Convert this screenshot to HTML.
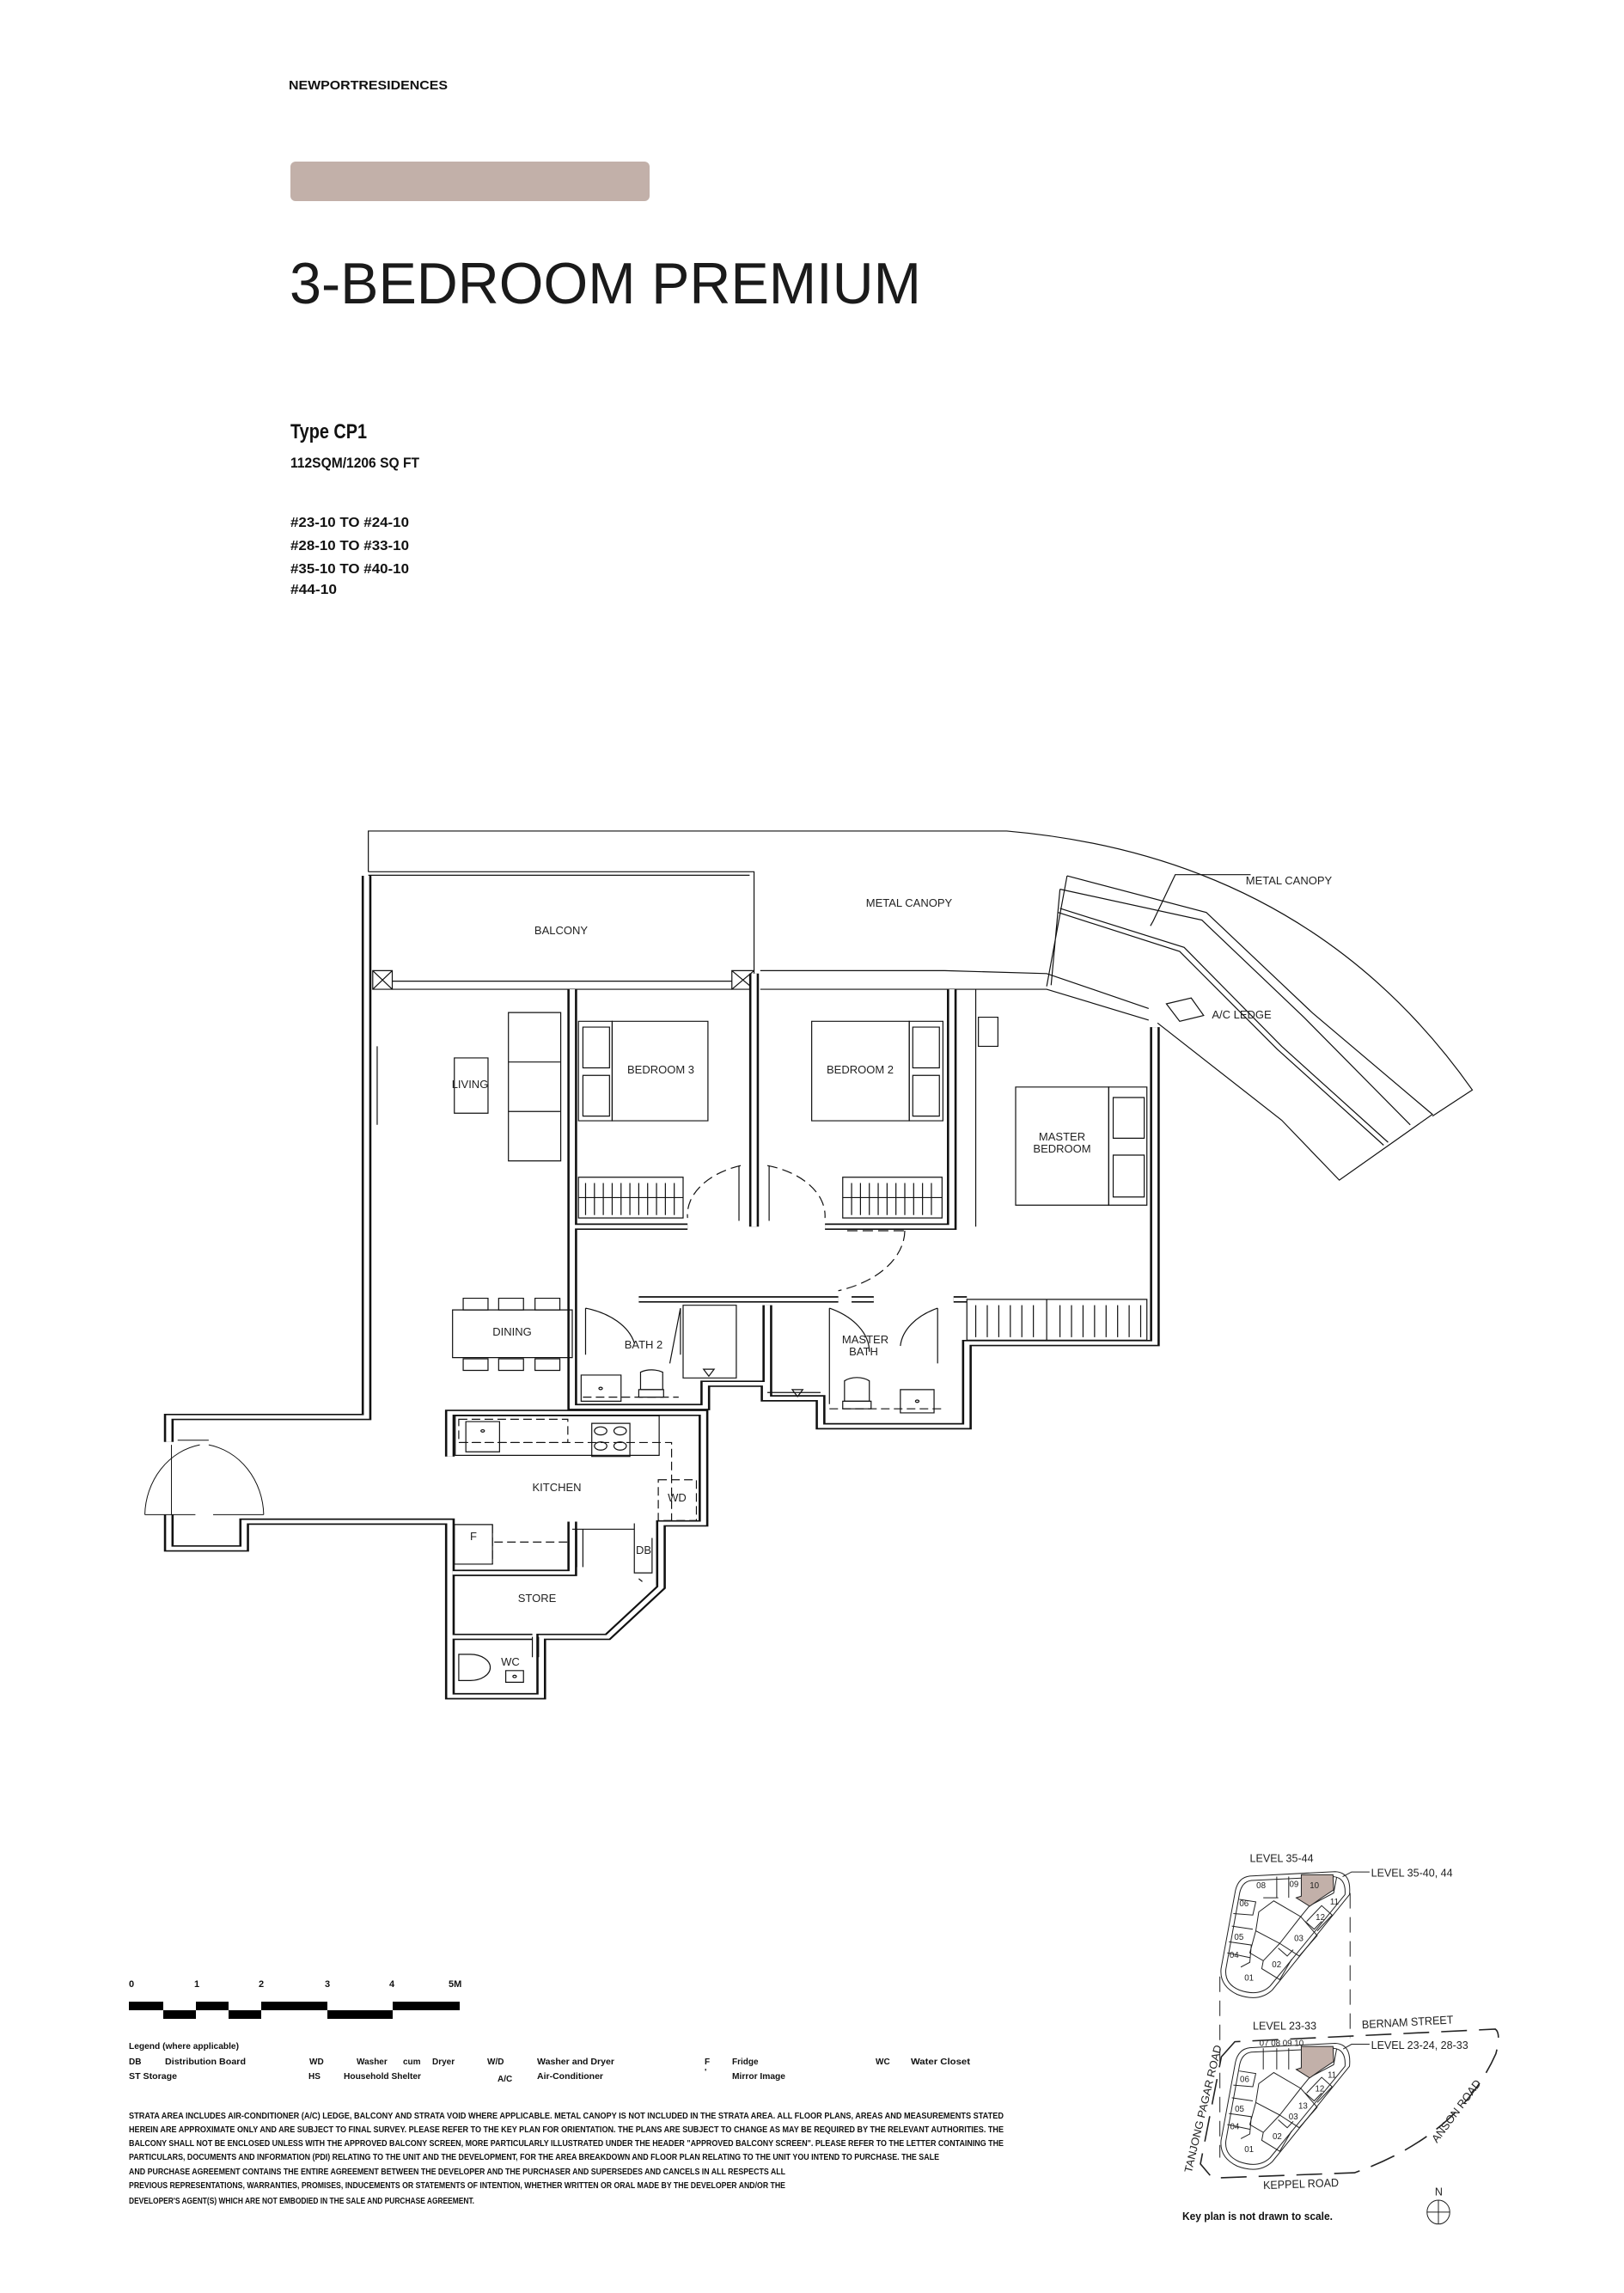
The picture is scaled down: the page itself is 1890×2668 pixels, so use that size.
<!DOCTYPE html>
<html><head><meta charset="utf-8">
<style>
html,body{margin:0;padding:0;background:#fff;}
svg{display:block;}
.n *{vector-effect:non-scaling-stroke;}
.t{font-family:"Liberation Sans",sans-serif;fill:#222;}
.c{font-family:"Liberation Sans Narrow","Liberation Sans",sans-serif;font-weight:bold;fill:#111;}
</style></head><body>
<svg width="1890" height="2668" viewBox="0 0 1890 2668" xmlns="http://www.w3.org/2000/svg">
<defs>
<g id="walls" fill="none">
 <path d="M268,102 V1032 H45 V1075"/>
 <path d="M45,1200 V1258 H130 V1212 H362 V1512 H465 V1410 H540 L600,1325 V1215 H648 V1025 H362 V1100"/>
 <path d="M500,297 V1015 H650 V975 H718 V1000 H780 V1048 H945 V905 H1157 V362"/>
 <path d="M500,705 H630"/>
 <path d="M705,270 V705"/>
 <path d="M785,705 H928 V297"/>
 <path d="M575,830 H800 M815,830 H840 M720,840 V1000 M945,830 H930"/>
 <path d="M365,1300 H500 V1212 M455,1410 H362"/>
</g>
</defs>
<rect width="1890" height="2668" fill="#fff"/>

<!-- header -->
<text class="c" x="336" y="104" font-size="15" textLength="185" lengthAdjust="spacingAndGlyphs">NEWPORTRESIDENCES</text>
<rect x="338" y="188" width="418" height="46" rx="6" fill="#c2b0a9"/>
<text class="t" x="337" y="353" font-size="68" textLength="735" lengthAdjust="spacingAndGlyphs" style="fill:#1a1a1a">3-BEDROOM PREMIUM</text>
<text class="c" x="338" y="510" font-size="24" textLength="89" lengthAdjust="spacingAndGlyphs">Type CP1</text>
<text class="c" x="338" y="544" font-size="17" textLength="150" lengthAdjust="spacingAndGlyphs">112SQM/1206 SQ FT</text>
<text class="c" x="338" y="613" font-size="16" textLength="138" lengthAdjust="spacingAndGlyphs">#23-10 TO #24-10</text>
<text class="c" x="338" y="640" font-size="16" textLength="138" lengthAdjust="spacingAndGlyphs">#28-10 TO #33-10</text>
<text class="c" x="338" y="667" font-size="16" textLength="138" lengthAdjust="spacingAndGlyphs">#35-10 TO #40-10</text>
<text class="c" x="338" y="691" font-size="16" textLength="54" lengthAdjust="spacingAndGlyphs">#44-10</text>

<!-- floor plan -->
<g class="n" transform="translate(150,950) scale(1.032,0.677)" fill="none" stroke="#111" stroke-width="1.2">
 <!-- canopy -->
 <path d="M270,95 V25 H990 Q1330,70 1515,470 L1470,515"/>
 <path d="M270,95 H705 V265 M270,101 H700"/>
 <path d="M297,283 H680 M297,297 H680 M712,265 H920 L1035,270 L1150,330 M712,297 H930 L1035,297 L1150,350"/>
 <path d="M1058,102 L1035,292 M1050,125 L1040,290"/>
 <path d="M1058,102 L1215,165 L1335,338 L1470,512 L1365,625 L1300,522 L1160,355"/>
 <path d="M1050,125 L1210,178 L1325,345 L1445,530"/>
 <path d="M1050,158 L1190,225 L1300,395 L1420,560 M1048,165 L1185,232 L1295,400 L1415,565"/>
 <path d="M1155,180 L1180,100 H1265 M1155,180 l-3,8"/>
 <path d="M1170,322 L1198,312 L1212,342 L1185,352 Z"/>
 <rect x="275" y="265" width="22" height="32"/><path d="M275,265 L297,297 M297,265 L275,297"/>
 <rect x="680" y="265" width="25" height="32"/><path d="M680,265 L705,297 M705,265 L680,297"/>
 <path d="M955,297 V705 M280,395 V530"/>
 <!-- walls -->
 <use href="#walls" stroke="#111" stroke-width="11"/>
 <use href="#walls" stroke="#fff" stroke-width="6"/>
 <!-- living -->
 <rect x="428" y="337" width="59" height="255"/><path d="M428,422 H487 M428,507 H487"/>
 <rect x="367" y="415" width="38" height="95"/>
 <!-- bedroom 3 -->
 <rect x="545" y="352" width="108" height="171"/><rect x="507" y="352" width="38" height="171"/>
 <rect x="512" y="362" width="30" height="70"/><rect x="512" y="445" width="30" height="70"/>
 <rect x="507" y="620" width="118" height="70"/><path d="M507,655 H625 M515,630 V685 M525,630 V685 M535,630 V685 M545,630 V685 M555,630 V685 M565,630 V685 M575,630 V685 M585,630 V685 M595,630 V685 M605,630 V685 M615,630 V685"/>
 <path d="M690,600 A90,90 0 0 0 630,690" stroke-dasharray="12 6"/><path d="M688,600 V695"/>
 <!-- bedroom 2 -->
 <rect x="770" y="352" width="110" height="171"/><rect x="880" y="352" width="38" height="171"/>
 <rect x="884" y="362" width="30" height="70"/><rect x="884" y="445" width="30" height="70"/>
 <rect x="805" y="620" width="112" height="70"/><path d="M805,655 H917 M815,630 V685 M825,630 V685 M835,630 V685 M845,630 V685 M855,630 V685 M865,630 V685 M875,630 V685 M885,630 V685 M895,630 V685 M905,630 V685"/>
 <path d="M720,600 A90,90 0 0 1 785,690" stroke-dasharray="12 6"/><path d="M722,600 V695"/>
 <!-- master -->
 <rect x="958" y="345" width="22" height="50"/>
 <rect x="1000" y="465" width="105" height="203"/><rect x="1105" y="465" width="43" height="203"/>
 <rect x="1110" y="483" width="35" height="70"/><rect x="1110" y="582" width="35" height="72"/>
 <path d="M810,712 H875 M875,712 A110,110 0 0 1 800,815" stroke-dasharray="12 6"/>
 <rect x="945" y="830" width="203" height="70"/><path d="M1035,830 V900 M955,840 V895 M968,840 V895 M981,840 V895 M994,840 V895 M1007,840 V895 M1020,840 V895 M1050,840 V895 M1063,840 V895 M1076,840 V895 M1089,840 V895 M1102,840 V895 M1115,840 V895 M1128,840 V895 M1141,840 V895"/>
 <!-- dining -->
 <rect x="365" y="848" width="135" height="82"/>
 <rect x="377" y="828" width="28" height="20"/><rect x="417" y="828" width="28" height="20"/><rect x="458" y="828" width="28" height="20"/>
 <rect x="377" y="932" width="28" height="20"/><rect x="417" y="932" width="28" height="20"/><rect x="458" y="932" width="28" height="20"/>
 <!-- bath 2 -->
 <path d="M515,845 V925 M515,845 A80,80 0 0 1 570,905 M622,845 V925 M622,845 L610,940"/>
 <rect x="510" y="960" width="45" height="45"/><circle cx="532" cy="983" r="2"/>
 <path d="M577,985 V955 A22,22 0 0 1 602,955 V985 Z"/><path d="M575,985 H603 V998 H575 Z"/>
 <rect x="625" y="840" width="60" height="125"/><path d="M648,950 L660,950 L654,962 Z"/>
 <path d="M512,998 H620" stroke-dasharray="10 5"/>
 <!-- master bath -->
 <path d="M790,845 V1010 M790,845 A85,85 0 0 1 835,920 M912,845 V940 M912,845 A80,80 0 0 0 870,910"/>
 <rect x="870" y="985" width="38" height="40"/><circle cx="889" cy="1005" r="2"/>
 <path d="M807,1005 V970 A20,20 0 0 1 835,970 V1005 Z"/><path d="M805,1005 H837 V1018 H805 Z"/>
 <path d="M748,985 L760,985 L754,997 Z M720,990 H780"/>
 <path d="M790,1018 H920" stroke-dasharray="10 5"/>
 <!-- kitchen -->
 <rect x="368" y="1030" width="230" height="68"/>
 <rect x="372" y="1036" width="123" height="40" stroke-dasharray="10 5"/>
 <rect x="380" y="1040" width="38" height="52"/><circle cx="399" cy="1056" r="2"/>
 <rect x="522" y="1043" width="43" height="57"/><circle cx="532" cy="1056" r="7"/><circle cx="554" cy="1056" r="7"/><circle cx="532" cy="1082" r="7"/><circle cx="554" cy="1082" r="7"/>
 <path d="M372,1076 H612 V1210" stroke-dasharray="10 5"/>
 <rect x="597" y="1140" width="43" height="70" stroke-dasharray="10 5"/>
 <rect x="367" y="1217" width="43" height="68"/><path d="M410,1217 V1285 M412,1247 H497" stroke-dasharray="10 5"/>
 <path d="M505,1225 V1290 M512,1225 V1290 M500,1225 H570 M570,1215 V1300 H590 V1240"/>
 <!-- entry door -->
 <path d="M55,1072 H90 M18,1200 H75 M95,1200 H152 M18,1200 A75,125 0 0 1 80,1080 M152,1200 A75,125 0 0 0 90,1080 M48,1080 V1200" stroke-width="1"/>
 <!-- wc -->
 <path d="M372,1440 H385 A22,22 0 0 1 385,1485 H372 Z"/><rect x="425" y="1468" width="20" height="20"/><circle cx="435" cy="1478" r="2"/>
 <path d="M455,1410 V1445 M462,1410 V1445"/>
 <path d="M575,1310 l4,5"/>
</g>
<!-- floor labels -->
<g class="t" font-size="13" text-anchor="middle">
 <text x="653" y="1087">BALCONY</text>
 <text x="1058" y="1055">METAL CANOPY</text>
 <text x="1500" y="1029">METAL CANOPY</text>
 <text x="1445" y="1185">A/C LEDGE</text>
 <text x="547" y="1266">LIVING</text>
 <text x="769" y="1249">BEDROOM 3</text>
 <text x="1001" y="1249">BEDROOM 2</text>
 <text x="1236" y="1327">MASTER</text>
 <text x="1236" y="1341">BEDROOM</text>
 <text x="596" y="1554">DINING</text>
 <text x="749" y="1569">BATH 2</text>
 <text x="1007" y="1563">MASTER</text>
 <text x="1005" y="1577">BATH</text>
 <text x="648" y="1735">KITCHEN</text>
 <text x="788" y="1747">WD</text>
 <text x="551" y="1792">F</text>
 <text x="749" y="1808">DB</text>
 <text x="625" y="1864">STORE</text>
 <text x="594" y="1938">WC</text>
</g>

<!-- scale bar -->
<g class="c" font-size="11">
 <text x="150" y="2312">0</text><text x="226" y="2312">1</text><text x="301" y="2312">2</text><text x="378" y="2312">3</text><text x="453" y="2312">4</text><text x="522" y="2312">5M</text>
</g>
<g fill="#000">
 <rect x="150" y="2329" width="40" height="10"/><rect x="228" y="2329" width="38" height="10"/><rect x="304" y="2329" width="77" height="10"/><rect x="457" y="2329" width="78" height="10"/>
 <rect x="190" y="2339" width="38" height="10"/><rect x="266" y="2339" width="38" height="10"/><rect x="381" y="2339" width="76" height="10"/>
</g>
<!-- legend -->
<g class="c" font-size="10">
 <text x="150" y="2384" textLength="128" lengthAdjust="spacingAndGlyphs">Legend (where applicable)</text>
 <text x="150" y="2402">DB</text><text x="192" y="2402" textLength="94" lengthAdjust="spacingAndGlyphs">Distribution Board</text>
 <text x="360" y="2402">WD</text><text x="415" y="2402">Washer</text><text x="469" y="2402">cum</text><text x="503" y="2402">Dryer</text>
 <text x="567" y="2402">W/D</text><text x="625" y="2402" textLength="90" lengthAdjust="spacingAndGlyphs">Washer and Dryer</text>
 <text x="820" y="2402">F</text><text x="852" y="2402">Fridge</text>
 <text x="1019" y="2402">WC</text><text x="1060" y="2402" textLength="69" lengthAdjust="spacingAndGlyphs">Water Closet</text>
 <text x="150" y="2419" textLength="56" lengthAdjust="spacingAndGlyphs">ST Storage</text>
 <text x="359" y="2419">HS</text><text x="400" y="2419" textLength="90" lengthAdjust="spacingAndGlyphs">Household Shelter</text>
 <text x="579" y="2422">A/C</text><text x="625" y="2419" textLength="77" lengthAdjust="spacingAndGlyphs">Air-Conditioner</text>
 <text x="820" y="2414">'</text><text x="852" y="2419" textLength="62" lengthAdjust="spacingAndGlyphs">Mirror Image</text>
</g>
<g class="c" font-size="10" lengthAdjust="spacingAndGlyphs">
 <text x="150" y="2465" textLength="1018" lengthAdjust="spacingAndGlyphs">STRATA AREA INCLUDES AIR-CONDITIONER (A/C) LEDGE, BALCONY AND STRATA VOID WHERE APPLICABLE. METAL CANOPY IS NOT INCLUDED IN THE STRATA AREA. ALL FLOOR PLANS, AREAS AND MEASUREMENTS STATED</text>
 <text x="150" y="2481" textLength="1018" lengthAdjust="spacingAndGlyphs">HEREIN ARE APPROXIMATE ONLY AND ARE SUBJECT TO FINAL SURVEY. PLEASE REFER TO THE KEY PLAN FOR ORIENTATION. THE PLANS ARE SUBJECT TO CHANGE AS MAY BE REQUIRED BY THE RELEVANT AUTHORITIES. THE</text>
 <text x="150" y="2497" textLength="1018" lengthAdjust="spacingAndGlyphs">BALCONY SHALL NOT BE ENCLOSED UNLESS WITH THE APPROVED BALCONY SCREEN, MORE PARTICULARLY ILLUSTRATED UNDER THE HEADER "APPROVED BALCONY SCREEN". PLEASE REFER TO THE LETTER CONTAINING THE</text>
 <text x="150" y="2513" textLength="943" lengthAdjust="spacingAndGlyphs">PARTICULARS, DOCUMENTS AND INFORMATION (PDI) RELATING TO THE UNIT AND THE DEVELOPMENT, FOR THE AREA BREAKDOWN AND FLOOR PLAN RELATING TO THE UNIT YOU INTEND TO PURCHASE. THE SALE</text>
 <text x="150" y="2530" textLength="764" lengthAdjust="spacingAndGlyphs">AND PURCHASE AGREEMENT CONTAINS THE ENTIRE AGREEMENT BETWEEN THE DEVELOPER AND THE PURCHASER AND SUPERSEDES AND CANCELS IN ALL RESPECTS ALL</text>
 <text x="150" y="2546" textLength="764" lengthAdjust="spacingAndGlyphs">PREVIOUS REPRESENTATIONS, WARRANTIES, PROMISES, INDUCEMENTS OR STATEMENTS OF INTENTION, WHETHER WRITTEN OR ORAL MADE BY THE DEVELOPER AND/OR THE</text>
 <text x="150" y="2564" textLength="402" lengthAdjust="spacingAndGlyphs">DEVELOPER'S AGENT(S) WHICH ARE NOT EMBODIED IN THE SALE AND PURCHASE AGREEMENT.</text>
</g>

<!-- key plan -->
<g transform="translate(1350,2100) scale(0.3484,0.3665)">
 <g class="n" fill="none" stroke="#222" stroke-width="1">
  <path d="M300,226 L585,212 Q640,214 633,285 L375,588 Q330,628 258,602 Q198,575 204,520 L252,272 Q262,230 300,226 Z"/>
  <path d="M305,240 L580,228 Q622,232 618,285 L368,575 Q330,610 265,588 Q215,568 220,522 L266,280 Q274,244 305,240 Z"/>
  <path d="M330,340 L380,305 L470,355 L400,440 L320,400 Z M320,400 L300,470 L345,495 L400,440 M345,495 L340,520 L400,555 L440,490 M400,440 L465,480 L525,415 L470,355 M470,355 L500,320 L580,280 L590,230 M455,295 L500,320 M390,228 V295 M430,228 V295 M345,295 L395,295 M265,300 L320,308 L310,350 L245,345 M240,385 L310,395 M230,435 L305,445 L300,500 L270,515 M490,370 L540,320 L575,350 L525,400 M485,370 L515,395 L540,370 M395,455 L425,480 L445,460 M225,470 L300,485"/>
  <path d="M472,222 L578,222 L580,270 L540,295 L500,322 L455,295 L472,290 Z" fill="#c2b0a9"/>
  <path d="M300,771 L585,757 Q640,759 633,830 L375,1133 Q330,1173 258,1147 Q198,1120 204,1065 L252,817 Q262,775 300,771 Z"/>
  <path d="M305,785 L580,773 Q622,777 618,830 L368,1120 Q330,1155 265,1133 Q215,1113 220,1067 L266,825 Q274,789 305,785 Z"/>
  <path d="M330,885 L380,850 L470,900 L400,985 L320,945 Z M320,945 L300,1015 L345,1040 L400,985 M345,1040 L340,1065 L400,1100 L440,1035 M400,985 L465,1025 L525,960 L470,900 M470,900 L500,865 L580,825 L590,775 M455,840 L500,865 M345,773 V840 M390,773 V840 M430,773 V840 M265,845 L320,853 L310,895 L245,890 M240,930 L310,940 M230,980 L305,990 L300,1045 L270,1060 M490,915 L540,865 L575,895 L525,945 M485,915 L515,940 L540,915 M395,1000 L425,1025 L445,1005 M225,1015 L300,1030"/>
  <path d="M472,767 L578,767 L580,815 L540,840 L500,867 L455,840 L472,835 Z" fill="#c2b0a9"/>
  <path d="M200,545 V1120 M635,280 V740" stroke-dasharray="18 10"/>
  <path d="M205,800 L250,752 L1120,712 Q1140,725 1122,790 Q1000,1050 650,1168 L175,1185 L135,1140 Z" stroke-width="1.6" stroke-dasharray="30 14"/>
  <path d="M610,228 L640,213 H700 M612,775 L640,760 H700"/>
  <circle cx="930" cy="1293" r="38"/><path d="M892,1293 H968 M930,1255 V1331"/>
 </g>
 <g class="t" font-size="36">
  <text x="300" y="182">LEVEL 35-44</text>
  <text x="705" y="228">LEVEL 35-40, 44</text>
  <text x="310" y="713">LEVEL 23-33</text>
  <text x="705" y="775">LEVEL 23-24, 28-33</text>
  <text x="675" y="710" transform="rotate(-3 675 710)">BERNAM STREET</text>
  <text x="105" y="1170" transform="rotate(-76 105 1170)">TANJONG PAGAR ROAD</text>
  <text x="925" y="1075" transform="rotate(-52 925 1075)">ANSON ROAD</text>
  <text x="345" y="1220" transform="rotate(-2 345 1220)">KEPPEL ROAD</text>
  <text x="918" y="1240">N</text>
  <g font-size="28">
   <text x="322" y="265">08</text><text x="432" y="260">09</text><text x="500" y="265">10</text><text x="568" y="316">11</text><text x="520" y="366">12</text>
   <text x="265" y="322">06</text><text x="248" y="428">05</text><text x="232" y="486">04</text><text x="448" y="433">03</text><text x="374" y="516">02</text><text x="282" y="558">01</text>
   <text x="332" y="765">07 08 09 10</text><text x="560" y="866">11</text><text x="518" y="910">12</text><text x="462" y="964">13</text>
   <text x="267" y="880">06</text><text x="250" y="974">05</text><text x="234" y="1030">04</text><text x="430" y="998">03</text><text x="376" y="1062">02</text><text x="282" y="1103">01</text>
  </g>
 </g>
</g>
<text class="c" x="1376" y="2583" font-size="13" textLength="175" lengthAdjust="spacingAndGlyphs">Key plan is not drawn to scale.</text>
</svg>
</body></html>
